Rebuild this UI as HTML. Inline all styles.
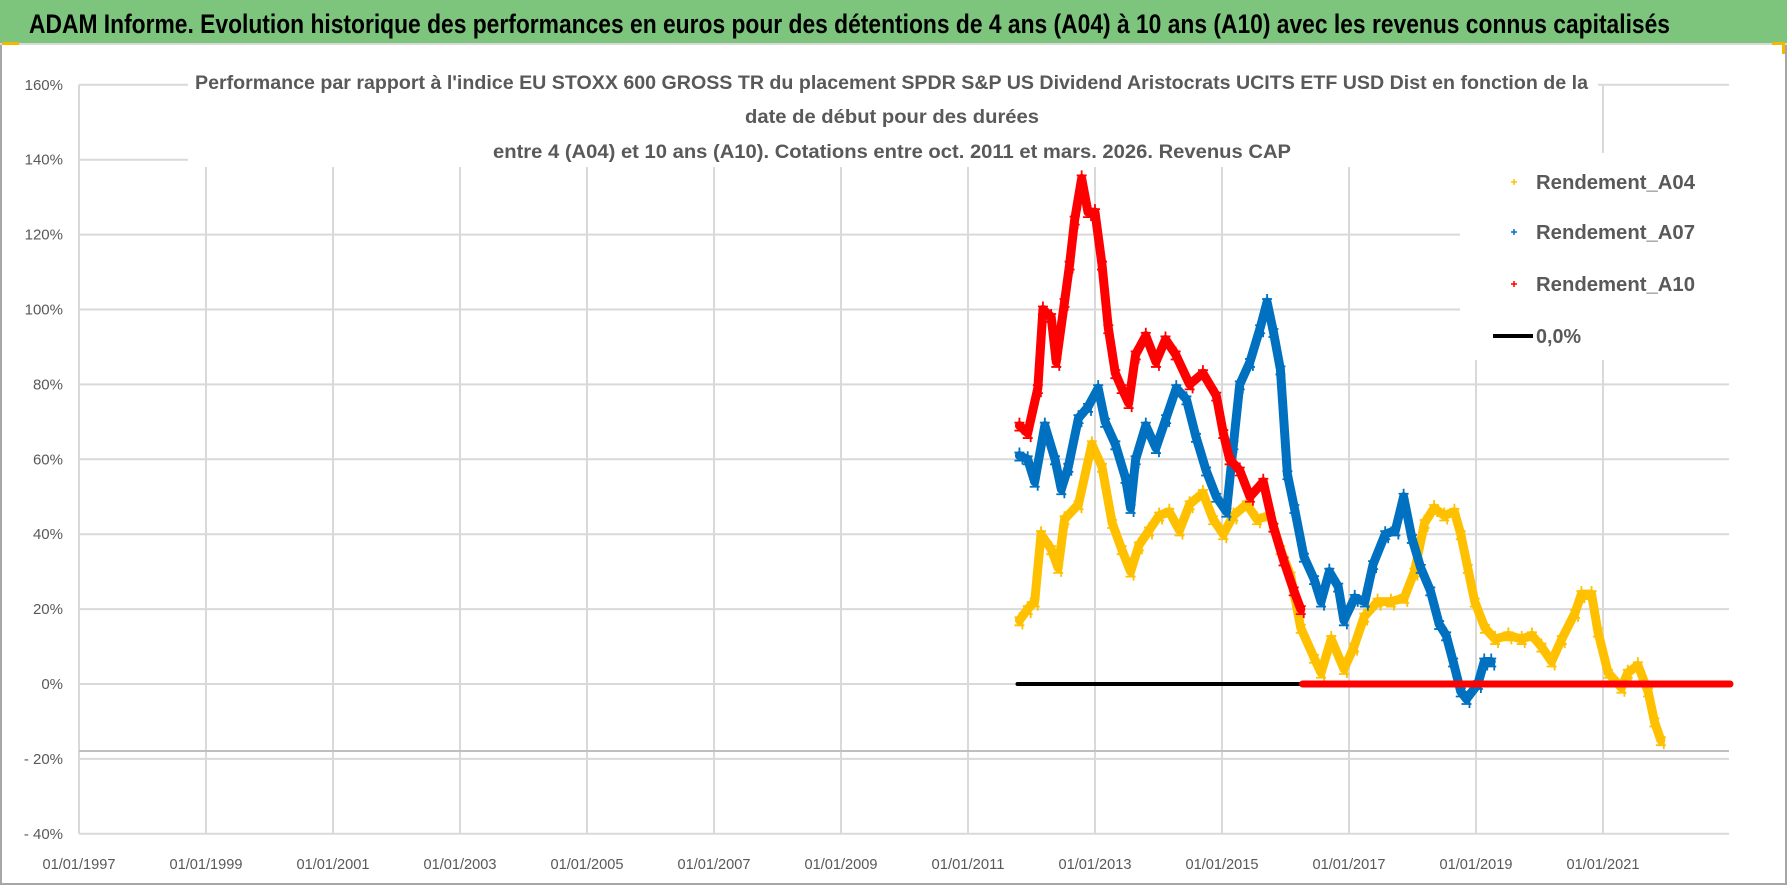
<!DOCTYPE html>
<html><head><meta charset="utf-8"><style>
html,body{margin:0;padding:0;background:#fff;}
svg{display:block;font-family:"Liberation Sans",sans-serif;}
</style></head><body>
<svg id="chart" width="1790" height="886" viewBox="0 0 1790 886" xmlns="http://www.w3.org/2000/svg">
<rect x="0" y="0" width="1790" height="886" fill="#fff"/>
<rect x="1" y="42" width="1785" height="842" fill="none" stroke="#a6a6a6" stroke-width="2"/>
<rect x="0" y="0" width="1787" height="43" fill="#7dc57c"/>
<line x1="0" y1="44" x2="1787" y2="44" stroke="#d9d9d9" stroke-width="2"/>
<rect x="2" y="42" width="17" height="3" fill="#f5b800"/>
<rect x="1772" y="42" width="12" height="3" fill="#f5b800"/>
<rect x="1782" y="42" width="3" height="12" fill="#f5b800"/>
<text x="29" y="33" font-size="27" font-weight="bold" fill="#000" textLength="1641" lengthAdjust="spacingAndGlyphs">ADAM Informe. Evolution historique des performances en euros pour des détentions de 4 ans (A04) à 10 ans (A10) avec les revenus connus capitalisés</text>
<g id="grid"></g>
<line x1="79" y1="751" x2="1729" y2="751" stroke="#bfbfbf" stroke-width="2"/>
<rect x="188" y="62" width="1410" height="105" fill="#fff"/>
<g font-size="19" font-weight="bold" fill="#595959">
<text x="195" y="89" textLength="1393" lengthAdjust="spacingAndGlyphs">Performance par rapport à l'indice EU STOXX 600 GROSS TR  du placement SPDR S&amp;P US Dividend Aristocrats UCITS ETF USD Dist en fonction de la</text>
<text x="745" y="123" textLength="294" lengthAdjust="spacingAndGlyphs">date de début pour des durées</text>
<text x="493" y="158" textLength="798" lengthAdjust="spacingAndGlyphs">entre 4 (A04) et 10 ans (A10). Cotations entre oct. 2011 et mars. 2026. Revenus CAP</text>
</g>
<g id="ylabels" font-size="15" fill="#595959"></g>
<g id="xlabels" font-size="15" fill="#595959"></g>
<g id="series"></g>
<rect x="1460" y="153" width="269" height="207" fill="#fff"/>
<g font-size="20" font-weight="bold" fill="#595959">
<g><path d="M1511 182h6M1514 179v6" stroke="#ffc000" stroke-width="1.5"/><text x="1536" y="189" textLength="159" lengthAdjust="spacingAndGlyphs">Rendement_A04</text></g>
<g><path d="M1511 232h6M1514 229v6" stroke="#0070c0" stroke-width="1.5"/><text x="1536" y="239" textLength="159" lengthAdjust="spacingAndGlyphs">Rendement_A07</text></g>
<g><path d="M1511 284h6M1514 281v6" stroke="#ff0000" stroke-width="1.5"/><text x="1536" y="291" textLength="159" lengthAdjust="spacingAndGlyphs">Rendement_A10</text></g>
<g><line x1="1493" y1="336" x2="1533" y2="336" stroke="#000" stroke-width="4"/><text x="1536" y="343" textLength="45" lengthAdjust="spacingAndGlyphs">0,0%</text></g>
</g>
</svg>
<script>
const yTicks = [160,140,120,100,80,60,40,20,0,-20,-40];
const yTickLabels = ["160%","140%","120%","100%","80%","60%","40%","20%","0%","- 20%","- 40%"];
const xTicks = [1997,1999,2001,2003,2005,2007,2009,2011,2013,2015,2017,2019,2021];
const xTickLabels = ["01/01/1997","01/01/1999","01/01/2001","01/01/2003","01/01/2005","01/01/2007","01/01/2009","01/01/2011","01/01/2013","01/01/2015","01/01/2017","01/01/2019","01/01/2021"];
const a10Dates = [2011.81,2011.94,2012.10,2012.18,2012.31,2012.39,2012.52,2012.60,2012.68,2012.79,2012.89,2013.00,2013.11,2013.21,2013.32,2013.42,2013.53,2013.64,2013.80,2013.96,2014.11,2014.27,2014.49,2014.70,2014.91,2015.02,2015.12,2015.28,2015.44,2015.65,2015.81,2015.97,2016.13,2016.24];
const a10Values = [69,67,79,100,98,86,102,112,124,135,126,126,112,95,83,79,75,88,93,86,92,88,80,83,77,67,60,57,50,54,42,33,25,20];
const a07Dates = [2011.81,2011.94,2012.05,2012.21,2012.37,2012.47,2012.58,2012.74,2012.89,2013.05,2013.16,2013.32,2013.48,2013.56,2013.64,2013.80,2013.96,2014.12,2014.28,2014.44,2014.59,2014.75,2014.91,2015.07,2015.18,2015.28,2015.44,2015.60,2015.71,2015.81,2015.92,2016.03,2016.14,2016.29,2016.45,2016.56,2016.69,2016.83,2016.92,2017.09,2017.25,2017.38,2017.57,2017.73,2017.86,2017.99,2018.13,2018.28,2018.42,2018.53,2018.64,2018.76,2018.85,2019.03,2019.13,2019.24];
const a07Values = [61,60,54,69,60,52,58,71,74,79,70,64,55,47,60,69,63,71,79,76,66,57,50,46,64,80,86,95,102,94,84,56,47,34,28,22,30,26,17,23,22,32,40,41,50,39,31,25,16,13,6,-2,-4,0,6,6];
const a04Dates = [2011.81,2011.94,2012.05,2012.15,2012.31,2012.42,2012.52,2012.74,2012.95,2013.11,2013.27,2013.42,2013.56,2013.69,2013.85,2014.01,2014.17,2014.33,2014.49,2014.70,2014.86,2015.02,2015.18,2015.39,2015.55,2015.76,2015.92,2016.08,2016.24,2016.45,2016.56,2016.72,2016.92,2017.08,2017.24,2017.45,2017.66,2017.87,2018.03,2018.19,2018.34,2018.50,2018.66,2018.76,2018.87,2018.98,2019.14,2019.30,2019.51,2019.72,2019.88,2020.03,2020.19,2020.35,2020.56,2020.66,2020.82,2020.92,2021.08,2021.29,2021.39,2021.55,2021.71,2021.81,2021.91];
const a04Values = [17,20,22,40,36,31,44,48,64,58,43,36,30,37,41,45,46,41,48,51,44,40,45,48,44,45,36,29,15,7,3,12,4,10,18,22,22,23,30,43,47,45,46,40,31,22,15,12,13,12,13,10,6,12,19,24,24,14,3,-1,3,5,-2,-10,-15];
const zeroLineDates = [2011.78,2023.0];
const zeroLineValues = [0,0];
const a10ZeroDates = [2016.27,2023.0];
const a10ZeroValues = [0,0];

const NS="http://www.w3.org/2000/svg";
const X0=79, XSTEP=63.5, Y0=684, YSTEP=3.745;
function xs(y){return X0+(y-1997)*XSTEP;}
function ys(v){return Y0-v*YSTEP;}
function mk(tag,attrs,parent){const e=document.createElementNS(NS,tag);for(const k in attrs)e.setAttribute(k,attrs[k]);parent.appendChild(e);return e;}
const grid=document.getElementById('grid');
const plotRight=1729;
yTicks.forEach((t,i)=>{
  const l=mk('line',{x1:X0,x2:plotRight,y1:ys(t),y2:ys(t),stroke:'#d9d9d9','stroke-width':2},grid);
  
  
  const tx=mk('text',{x:63,y:ys(t)+5,'text-anchor':'end'},document.getElementById('ylabels'));
  tx.textContent=yTickLabels[i];
  
  
});
xTicks.forEach((t,i)=>{
  const l=mk('line',{x1:xs(t),x2:xs(t),y1:ys(160),y2:ys(-40),stroke:'#d9d9d9','stroke-width':2},grid);
  
  
  const tx=mk('text',{x:xs(t),y:869,'text-anchor':'middle',textLength:73,lengthAdjust:'spacingAndGlyphs'},document.getElementById('xlabels'));
  tx.textContent=xTickLabels[i];
  
  
});
const sg=document.getElementById('series');
function line(dates,vals,color,w,name){
  const p=mk('polyline',{points:dates.map((d,i)=>xs(d)+','+ys(vals[i])).join(' '),fill:'none',stroke:color,'stroke-width':w,'stroke-linejoin':'round','stroke-linecap':'round'},sg);
  
  
}
function scatter(dates,vals,color,name){
  line(dates,vals,color,9,name+'-band');
  const g=mk('g',{stroke:color,'stroke-width':1.8},sg);
  
  
  dates.forEach((d,i)=>{
    const x=xs(d),y=ys(vals[i]);
    const p=mk('path',{d:`M${x-5} ${y-3}h10M${x} ${y-8}v10M${x-5} ${y+5}h10M${x+3} ${y-1}v10`},g);
    
    
  });
}
line(zeroLineDates,zeroLineValues,'#000',4,'zero-line');
scatter(a04Dates,a04Values,'#ffc000','series-a04');
scatter(a07Dates,a07Values,'#0070c0','series-a07');
scatter(a10Dates,a10Values,'#ff0000','series-a10');
line(a10ZeroDates,a10ZeroValues,'#ff0000',7,'series-a10-zero');
</script>
</body></html>
